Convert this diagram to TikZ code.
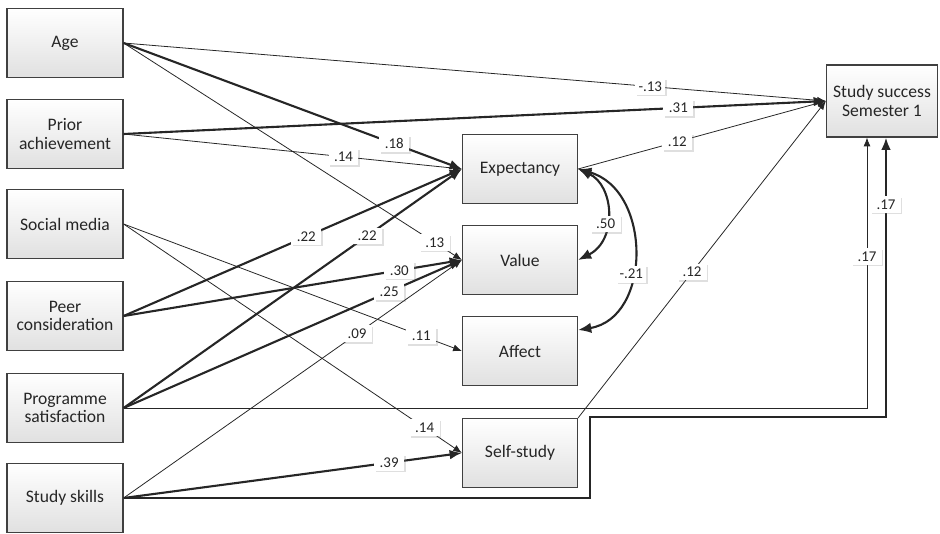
\documentclass[tikz,border=0pt]{standalone}
\usepackage{fontspec}
\setmainfont{Carlito}
\usetikzlibrary{arrows.meta,shadows,calc}

\begin{document}
\begin{tikzpicture}[x=0.02cm, y=-0.02cm,
    mybox/.style={draw=black!75, line width=0.7pt, top color=white, bottom color=black!12,
      minimum width=2.32cm, minimum height=1.38cm, align=center,
      font=\fontsize{10}{10.5}\selectfont, text=black!85},
    mylabel/.style={fill=white, font=\fontsize{8.5}{9}\selectfont, inner sep=0.5pt,
      minimum width=17pt, minimum height=9.5pt, text=black!85,
      drop shadow={shadow xshift=0.8pt, shadow yshift=-0.8pt, opacity=0.25}},
    weakpath/.style={draw=black!85, line width=0.45pt, -{Latex[length=5pt, width=4pt]}},
    strongpath/.style={draw=black!85, line width=1.2pt, -{Latex[length=7pt, width=5.5pt]}},
    covpath/.style={draw=black!85, line width=1.2pt,
      {Latex[length=7.5pt, width=6pt]}-{Latex[length=7.5pt, width=6pt]}}]
  \useasboundingbox (0,0) rectangle (940,534);

  % predictors
  \node[mybox] at (65,43) (age) {Age};
  \node[mybox] at (65,134) (prior) {Prior\\achievement};
  \node[mybox] at (65,224) (social) {Social media};
  \node[mybox] at (65,316) (peer) {Peer\\consideration};
  \node[mybox] at (65,408) (prog) {Programme\\satisfaction};
  \node[mybox] at (65,498) (skills) {Study skills};

  % mediators
  \node[mybox, minimum width=2.3cm] at (520,169) (expect) {Expectancy};
  \node[mybox, minimum width=2.3cm] at (520,260) (value) {Value};
  \node[mybox, minimum width=2.3cm] at (520,351) (affect) {Affect};
  \node[mybox, minimum width=2.3cm] at (520,453) (self) {Self-study};

  % outcome
  \node[mybox, minimum width=2.22cm, minimum height=1.44cm] at (882,101) (succ) {Study success\\Semester 1};

  \path
  (age.east) edge[weakpath] node[mylabel, pos=0.75] {-.13} (succ.west)
  (prior.east) edge[strongpath] node[mylabel, pos=0.79] {.31} (succ.west)
  (age.east) edge[strongpath] node[mylabel, pos=0.8] {.18} (expect.west)
  (age.east) edge[weakpath] node[mylabel, pos=0.92] {.13} (value.west)
  (prior.east) edge[weakpath] node[mylabel, pos=0.65] {.14} (expect.west)
  (social.east) edge[weakpath] node[mylabel, pos=0.88] {.11} (affect.west)
  (social.east) edge[weakpath] node[mylabel, pos=0.89] {.14} (self.west)
  (peer.east) edge[strongpath] node[mylabel, pos=0.54] {.22} (expect.west)
  (peer.east) edge[strongpath] node[mylabel, pos=0.815] {.30} (value.west)
  (prog.east) edge[strongpath] node[mylabel, pos=0.72] {.22} (expect.west)
  (prog.east) edge[strongpath] node[mylabel, pos=0.785] {.25} (value.west)
  (skills.east) edge[weakpath] node[mylabel, pos=0.69] {.09} (value.west)
  (skills.east) edge[strongpath] node[mylabel, pos=0.785] {.39} (self.west)
  (expect.east) edge[weakpath] node[mylabel, pos=0.4] {.12} (succ.west)
  (self.north east) edge[weakpath] node[mylabel, pos=0.46] {.12} (succ.west);

  \draw[weakpath] (prog.east) -| ($(succ.south)+(-15,0)$) node[mylabel, pos=0.78] {.17};
  \coordinate (bend) at (590,417);
  \draw[strongpath] (skills.east) -| (bend) -| ($(succ.south)+(4,0)$) node[mylabel, pos=0.88] {.17};

  % correlations
  \draw[covpath] (expect.east) .. controls (614,185) and (618,240) .. (value.east)
    node[mylabel, pos=0.6] {.50};
  \draw[covpath] (expect.east) .. controls (652,190) and (652,318) .. ($(affect.east)+(0,-21)$)
    node[mylabel, pos=0.6] {-.21};
\end{tikzpicture}
\end{document}
